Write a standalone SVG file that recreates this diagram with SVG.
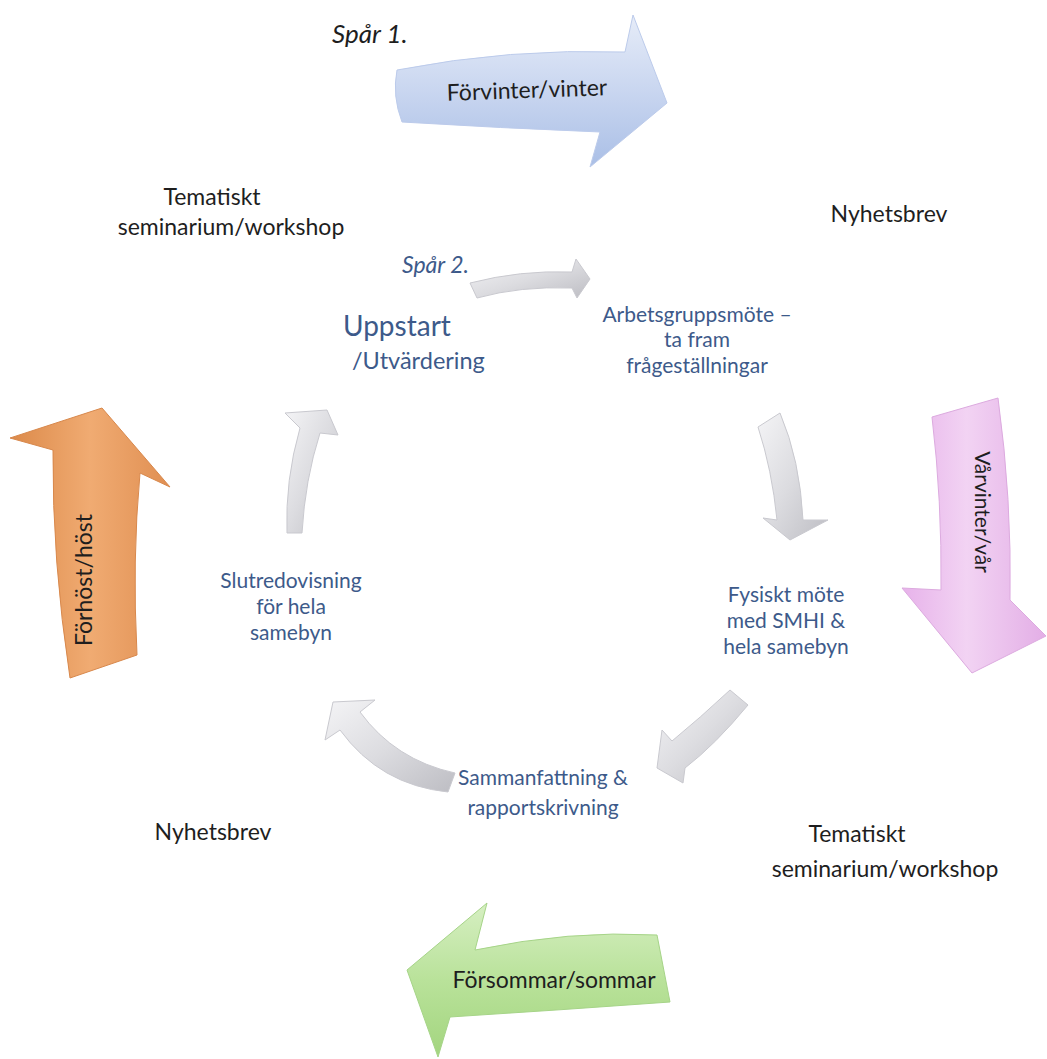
<svg xmlns="http://www.w3.org/2000/svg" width="1047" height="1059" viewBox="0 0 1047 1059">
<defs>
<linearGradient id="gBlue" x1="0" y1="0" x2="0" y2="1"><stop offset="0" stop-color="#e6ecf8"/><stop offset="0.5" stop-color="#c9d6f0"/><stop offset="1" stop-color="#aabfe6"/></linearGradient>
<linearGradient id="gPink" x1="0" y1="0" x2="1" y2="0"><stop offset="0" stop-color="#e7b2ea"/><stop offset="0.45" stop-color="#f2d3f3"/><stop offset="1" stop-color="#e3aee6"/></linearGradient>
<linearGradient id="gGreen" x1="0" y1="0" x2="0" y2="1"><stop offset="0" stop-color="#d6efc2"/><stop offset="0.5" stop-color="#b9e29a"/><stop offset="1" stop-color="#a3d57f"/></linearGradient>
<linearGradient id="gOrange" x1="0" y1="0" x2="1" y2="0"><stop offset="0" stop-color="#dc8a4a"/><stop offset="0.5" stop-color="#f0ab72"/><stop offset="1" stop-color="#e08f52"/></linearGradient>
<linearGradient id="gGrey" x1="0" y1="0" x2="1" y2="1"><stop offset="0" stop-color="#f4f4f6"/><stop offset="0.5" stop-color="#dcdce0"/><stop offset="1" stop-color="#bdbdc3"/></linearGradient>
<style>
.t{font-family:Lato,"Liberation Sans",sans-serif;fill:#1e1e1e;font-size:23px}
.b{font-family:Lato,"Liberation Sans",sans-serif;fill:#3d5a8a;font-size:21px}
.c{text-anchor:middle}
.i{font-style:italic}
.grey{fill:url(#gGrey);stroke:#c9c9cf;stroke-width:1}
</style>
</defs>
<rect width="1047" height="1059" fill="#ffffff"/>

<g id="connectors">
<path id="a-top" class="grey" d="M470,283 Q520,270 572,272 L576,259 L590,279 L577,298 L572,288 Q520,286 477,298 Z"/>
<path id="a-right" class="grey" d="M758,427 L780,413 Q800,460 803,520 L828,520 L790,540 L763,518 L777,520 Q772,470 758,427 Z"/>
<path id="a-bright" class="grey" d="M730,690 L748,705 Q715,745 685,768 L683,783 L657,768 L662,730 L672,741 Q700,718 730,690 Z"/>
<path id="a-bleft" class="grey" d="M455,773 L448,792 Q380,785 340,730 L325,740 L333,702 L375,700 L360,712 Q395,760 455,773 Z"/>
<path id="a-left" class="grey" d="M287,533 L302,533 Q305,480 320,433 L338,435 L327,410 L285,413 L300,428 Q285,480 287,533 Z"/>
</g>

<g id="season-winter">
<path d="M397,70 Q510,48 625,52 L633,15 L667,103 L590,167 L600,132 Q500,128 402,122 Q392,96 397,70 Z" fill="url(#gBlue)" stroke="#bccbeb" stroke-width="1"/>
<text class="t c" x="527" y="98" transform="rotate(-2 527 90)">Förvinter/vinter</text>
</g>

<g id="season-spring">
<path d="M932,417 L998,398 Q1012,500 1010,600 L1046,636 L972,673 L902,588 L941,590 Q942,500 932,417 Z" fill="url(#gPink)" stroke="#dcaadf" stroke-width="1"/>
<text class="t c" x="0" y="0" style="font-size:21px" transform="translate(982 512) rotate(90) translate(0 7)">Vårvinter/vår</text>
</g>

<g id="season-summer">
<path d="M407,970 L487,903 L475,950 Q570,930 657,935 L670,1002 Q560,1010 450,1017 L438,1057 Z" fill="url(#gGreen)" stroke="#a6d488" stroke-width="1"/>
<text class="t c" x="554" y="988">Försommar/sommar</text>
</g>

<g id="season-autumn">
<path d="M70,678 Q52,560 53,450 L10,438 L102,408 L170,487 L140,473 Q132,560 137,655 Z" fill="url(#gOrange)" stroke="#d8884c" stroke-width="1"/>
<text class="t c" x="0" y="0" transform="translate(84 580) rotate(-90) translate(0 8)">Förhöst/höst</text>
</g>

<g id="label-spar1"><text class="t i" x="332" y="43" style="font-size:26px">Spår 1.</text></g>
<g id="label-tema1"><text class="t c" x="212" y="205">Tematiskt</text><text class="t c" x="231" y="235">seminarium/workshop</text></g>
<g id="label-nyhet1"><text class="t c" x="889" y="222">Nyhetsbrev</text></g>
<g id="label-nyhet2"><text class="t c" x="213" y="840">Nyhetsbrev</text></g>
<g id="label-tema2"><text class="t c" x="857" y="842">Tematiskt</text><text class="t c" x="885" y="877">seminarium/workshop</text></g>

<g id="label-spar2"><text class="b i" x="402" y="273" style="font-size:23px">Spår 2.</text></g>
<g id="node-uppstart"><text class="b" x="343" y="336" style="font-size:28px">Uppstart</text><text class="b" x="352" y="369" style="font-size:23.5px">/Utvärdering</text></g>
<g id="node-arbetsgrupp"><text class="b c" x="697" y="322">Arbetsgruppsmöte –</text><text class="b c" x="697" y="347">ta fram</text><text class="b c" x="697" y="373">frågeställningar</text></g>
<g id="node-fysiskt"><text class="b c" x="786" y="602">Fysiskt möte</text><text class="b c" x="786" y="628">med SMHI &amp;</text><text class="b c" x="786" y="654">hela samebyn</text></g>
<g id="node-samman"><text class="b c" x="543" y="785">Sammanfattning &amp;</text><text class="b c" x="543" y="815">rapportskrivning</text></g>
<g id="node-slut"><text class="b c" x="291" y="588">Slutredovisning</text><text class="b c" x="291" y="614">för hela</text><text class="b c" x="291" y="640">samebyn</text></g>
</svg>
